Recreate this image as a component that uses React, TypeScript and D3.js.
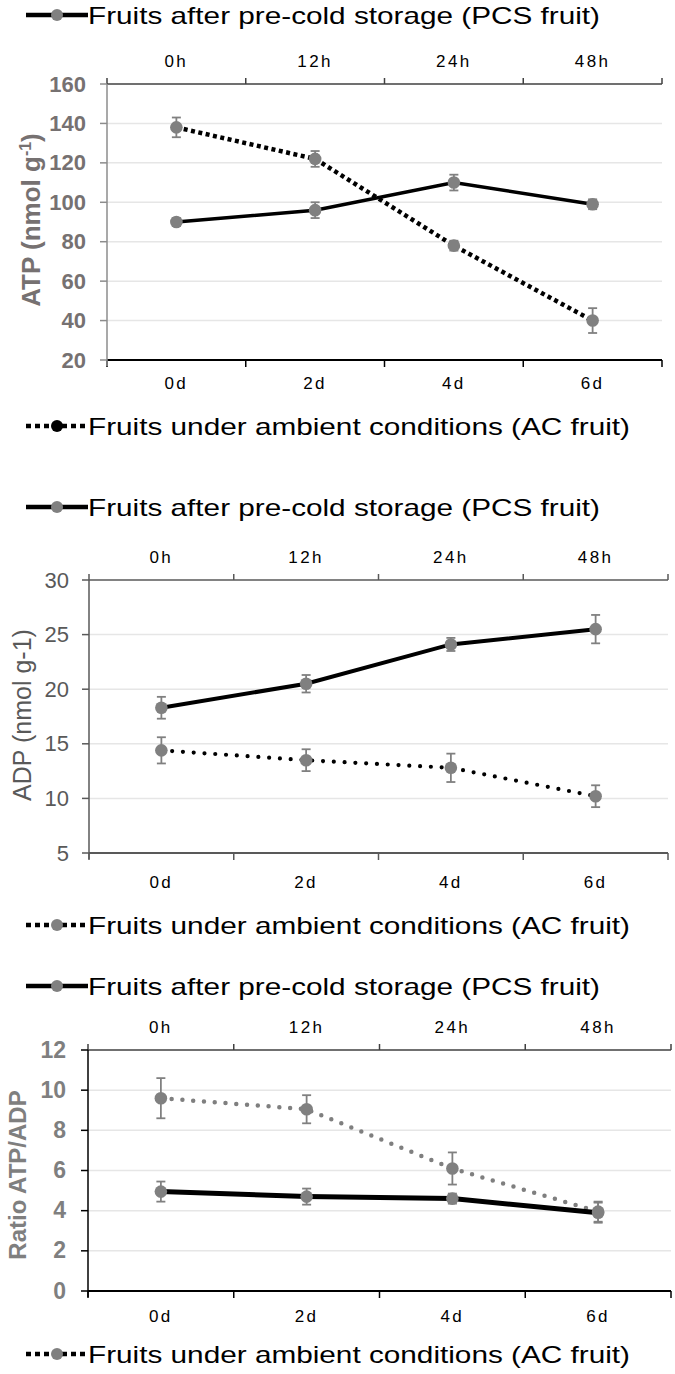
import React from 'react';
import * as d3 from 'd3';

const days = ['0d', '2d', '4d', '6d'];
const hours = ['0h', '12h', '24h', '48h'];

const atpPCS = [90, 96, 110, 99];
const atpPCSErr = [2, 4, 4, 2.5];
const atpAC = [138, 122, 78, 40];
const atpACErr = [5, 4, 2.5, 6.3];

const adpPCS = [18.3, 20.5, 24.1, 25.5];
const adpPCSErr = [1, 0.8, 0.6, 1.3];
const adpAC = [14.4, 13.5, 12.8, 10.2];
const adpACErr = [1.2, 1, 1.3, 1];

const ratioPCS = [4.95, 4.7, 4.6, 3.9];
const ratioPCSErr = [0.5, 0.4, 0.25, 0.5];
const ratioAC = [9.6, 9.05, 6.1, 3.95];
const ratioACErr = [1, 0.7, 0.8, 0.5];

const legendPCS = 'Fruits after pre-cold storage (PCS fruit)';
const legendAC = 'Fruits under ambient conditions (AC fruit)';

const FONT = '"Liberation Sans", Arial, sans-serif';
const GREY = '#808080';

type Series = { values: number[]; err: number[]; dash: string; cap: 'butt' | 'round'; color: string; width: number };

type PanelProps = {
  x0: number; x1: number; yTop: number; yBot: number;
  domain: [number, number]; step: number;
  pcs: Series; ac: Series;
  topLegendY: number; topLabelY: number; bottomLabelY: number; bottomLegendY: number;
  tickFont: { size: number; weight: string; color: string; end: number };
  title: React.ReactNode; titleX: number; titleY: number; titleWeight: string; titleColor: string; titleSize: number;
  axisColors: { top: string; bottom: string; left: string };
  legendDotColor: string;
};

const Legend = ({ y, text, dashed, dot, width }: { y: number; text: string; dashed: boolean; dot: string; width: number }) => (
  <g>
    <line x1={26} x2={88} y1={y} y2={y} stroke="#000" strokeWidth={4.5}
      strokeDasharray={dashed ? '5,4' : undefined} />
    <circle cx={57} cy={y} r={6} fill={dot} />
    <text x={88} y={y + 9} fontSize={24} fontFamily={FONT} fill="#000"
      textLength={width} lengthAdjust="spacingAndGlyphs">{text}</text>
  </g>
);

const Panel = (p: PanelProps) => {
  const xb = d3.scaleBand<string>().domain(days).range([p.x0, p.x1]).padding(0);
  const xt = d3.scaleBand<string>().domain(hours).range([p.x0, p.x1]).padding(0);
  const y = d3.scaleLinear().domain(p.domain).range([p.yBot, p.yTop]);
  const ticks = d3.range(p.domain[0], p.domain[1] + p.step / 2, p.step);
  const cx = (i: number) => (xb(days[i]) as number) + xb.bandwidth() / 2;
  const line = d3.line<number>().x((_, i) => cx(i)).y(d => y(d));
  const bounds = d3.range(0, days.length + 1).map(i => p.x0 + i * xb.bandwidth());

  const drawSeries = (s: Series) => (
    <path d={line(s.values) || ''} fill="none" stroke={s.color} strokeWidth={s.width}
      strokeDasharray={s.dash} strokeLinecap={s.cap} />
  );
  const drawPoints = (s: Series) => s.values.map((v, i) => (
    <g key={i}>
      <line x1={cx(i)} x2={cx(i)} y1={y(v - s.err[i])} y2={y(v + s.err[i])} stroke={GREY} strokeWidth={1.8} />
      <line x1={cx(i) - 4.5} x2={cx(i) + 4.5} y1={y(v - s.err[i])} y2={y(v - s.err[i])} stroke={GREY} strokeWidth={1.8} />
      <line x1={cx(i) - 4.5} x2={cx(i) + 4.5} y1={y(v + s.err[i])} y2={y(v + s.err[i])} stroke={GREY} strokeWidth={1.8} />
      <circle cx={cx(i)} cy={y(v)} r={6.3} fill={GREY} />
    </g>
  ));

  return (
    <g>
      <Legend y={p.topLegendY} text={legendPCS} dashed={false} dot={GREY} width={512} />
      {/* grid */}
      {ticks.slice(1, -1).map(t => (
        <line key={t} x1={p.x0} x2={p.x1} y1={y(t)} y2={y(t)} stroke="#e6e6e6" strokeWidth={1.5} />
      ))}
      {/* top axis */}
      <line x1={p.x0} x2={p.x1} y1={p.yTop} y2={p.yTop} stroke={p.axisColors.top} strokeWidth={1.5} />
      {bounds.map(b => <line key={b} x1={b} x2={b} y1={p.yTop - 6} y2={p.yTop} stroke={p.axisColors.top} strokeWidth={1.5} />)}
      {hours.map(h => (
        <text key={h} x={(xt(h) as number) + xt.bandwidth() / 2} y={p.topLabelY} fontSize={17}
          fontFamily={FONT} textAnchor="middle" letterSpacing={2.5} fill="#000">{h}</text>
      ))}
      {/* bottom axis */}
      <line x1={p.x0} x2={p.x1} y1={p.yBot} y2={p.yBot} stroke={p.axisColors.bottom} strokeWidth={1.8} />
      {bounds.map(b => <line key={b} x1={b} x2={b} y1={p.yBot} y2={p.yBot + 7} stroke={p.axisColors.bottom} strokeWidth={1.5} />)}
      {days.map(d => (
        <text key={d} x={cx(days.indexOf(d))} y={p.bottomLabelY} fontSize={17}
          fontFamily={FONT} textAnchor="middle" letterSpacing={2.5} fill="#000">{d}</text>
      ))}
      {/* left axis */}
      <line x1={p.x0} x2={p.x0} y1={p.yTop} y2={p.yBot + 6} stroke={p.axisColors.left} strokeWidth={1.5} />
      {ticks.map(t => (
        <g key={t}>
          <line x1={p.x0 - 7} x2={p.x0} y1={y(t)} y2={y(t)} stroke={p.axisColors.left} strokeWidth={1.5} />
          <text x={p.tickFont.end} y={y(t) + 7.5} fontSize={p.tickFont.size} fontWeight={p.tickFont.weight}
            fill={p.tickFont.color} fontFamily={FONT} textAnchor="end">{t}</text>
        </g>
      ))}
      <text transform={`translate(${p.titleX},${p.titleY}) rotate(-90)`} textAnchor="middle" fontSize={p.titleSize}
        fontWeight={p.titleWeight} fill={p.titleColor} fontFamily={FONT}>{p.title}</text>
      {drawSeries(p.ac)}
      {drawSeries(p.pcs)}
      {drawPoints(p.ac)}
      {drawPoints(p.pcs)}
      <Legend y={p.bottomLegendY} text={legendAC} dashed={true} dot={p.legendDotColor} width={542} />
    </g>
  );
};

export default function App() {
  return (
    <svg width={675} height={1374} viewBox="0 0 675 1374"
      style={{ position: 'absolute', left: 0, top: 0, background: '#fff' }}>
      <Panel x0={107} x1={662} yTop={84} yBot={360} domain={[20, 160]} step={20}
        pcs={{ values: atpPCS, err: atpPCSErr, dash: '', cap: 'butt', color: '#000', width: 3.5 }}
        ac={{ values: atpAC, err: atpACErr, dash: '4,3.5', cap: 'butt', color: '#000', width: 4.5 }}
        topLegendY={15} topLabelY={67} bottomLabelY={389} bottomLegendY={426}
        tickFont={{ size: 22, weight: 'bold', color: '#767171', end: 86 }}
        title={<><tspan>ATP (nmol g</tspan><tspan dy={-9} fontSize={16}>-1</tspan><tspan dy={9}>)</tspan></>}
        titleX={40} titleY={220} titleWeight="bold" titleColor="#767171" titleSize={26}
        axisColors={{ top: '#404040', bottom: '#000', left: '#8c8c8c' }} legendDotColor="#000" />
      <Panel x0={89} x1={668} yTop={580} yBot={853} domain={[5, 30]} step={5}
        pcs={{ values: adpPCS, err: adpPCSErr, dash: '', cap: 'butt', color: '#000', width: 4 }}
        ac={{ values: adpAC, err: adpACErr, dash: '0,10.8', cap: 'round', color: '#000', width: 4.2 }}
        topLegendY={507} topLabelY={563} bottomLabelY={888} bottomLegendY={925}
        tickFont={{ size: 22, weight: 'normal', color: '#595959', end: 69 }}
        title="ADP (nmol g-1)"
        titleX={31} titleY={715} titleWeight="normal" titleColor="#595959" titleSize={25}
        axisColors={{ top: '#595959', bottom: '#595959', left: '#595959' }} legendDotColor={GREY} />
      <Panel x0={88} x1={671} yTop={1050} yBot={1291} domain={[0, 12]} step={2}
        pcs={{ values: ratioPCS, err: ratioPCSErr, dash: '', cap: 'butt', color: '#000', width: 5 }}
        ac={{ values: ratioAC, err: ratioACErr, dash: '0,10.8', cap: 'round', color: '#7f7f7f', width: 4.5 }}
        topLegendY={986} topLabelY={1033} bottomLabelY={1322} bottomLegendY={1354}
        tickFont={{ size: 23, weight: 'bold', color: '#7f7f7f', end: 66 }}
        title="Ratio ATP/ADP"
        titleX={26} titleY={1175} titleWeight="bold" titleColor="#7f7f7f" titleSize={24}
        axisColors={{ top: '#404040', bottom: '#000', left: '#000' }} legendDotColor={GREY} />
    </svg>
  );
}
